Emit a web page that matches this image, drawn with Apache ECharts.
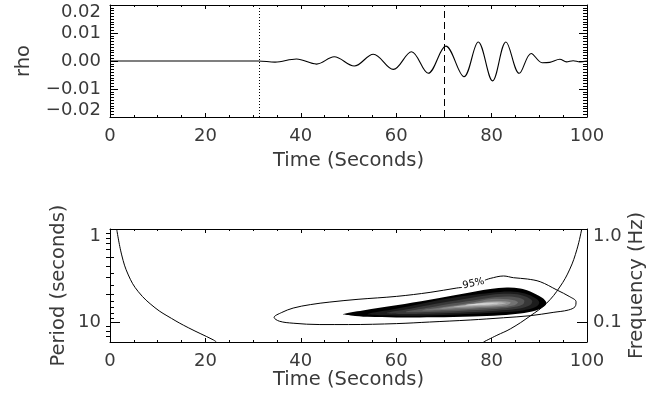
<!DOCTYPE html>
<html><head><meta charset="utf-8">
<script src="https://cdn.jsdelivr.net/npm/echarts@6/dist/echarts.min.js"></script>
<style>html,body{margin:0;padding:0;background:#fff}#c{width:671px;height:408px}</style>
</head><body><div id="c"></div>
<script>
// ---- top panel: rho time series (extrema) ----
const rhoTime  = [0, 31.1, 34.6, 39.1, 43.3, 47.0, 51.2, 55.2, 59.4, 63.2, 66.7, 70.4, 74.2, 77.2, 80.2, 83.0, 85.8, 88.3, 90.6, 92.2, 94.3, 95.7, 97.1, 98.5, 100];
const rhoValue = [0, 0, -0.0004, 0.0007, -0.0011, 0.0015, -0.0018, 0.0024, -0.0030, 0.0033, -0.0044, 0.0053, -0.0056, 0.0068, -0.0071, 0.0068, -0.0044, 0.0027, -0.0006, -0.0005, 0.0006, -0.0003, 0.0001, -0.0003, 0];
const dottedTime = 31.2;
const dashedTime = 70.1;

// ---- bottom panel: wavelet power (time, period) ----
const periodMax = 16.4;
const periodLabels = [1, 10];
const periodMinor = [2, 3, 4, 5, 6, 7, 8, 9];
const freqLabels = [0.1, 1.0];
const freqMinor = [0.07, 0.08, 0.09, 0.2, 0.3, 0.4, 0.5, 0.6, 0.7, 0.8, 0.9];

const level0 = [[48.9,8.2],[53,7.5],[60,6.6],[67,5.75],[74,4.97],[79.7,4.42],[83.2,4.25],[86,4.35],[88.1,4.69],[90.6,5.5],[91.5,6.25],[90.8,6.9],[89.3,7.5],[86,8.1],[82,8.45],[76,8.7],[68,8.9],[60,8.95],[54,8.8],[50.5,8.5]];
const level1 = [[54,8.2],[60,7.2],[65,6.4],[70,5.7],[75,5.2],[80,4.84],[84,4.7],[87,4.95],[89.3,5.6],[90,6.2],[89.2,6.9],[86.5,7.5],[82,7.85],[76,8.15],[70,8.4],[63,8.55],[57,8.45]];
const level2 = [[58,8.0],[63,7.2],[68,6.4],[74,5.7],[80,5.09],[84,4.98],[86.8,5.25],[88.5,5.9],[88,6.6],[85.5,7.2],[81,7.55],[75,7.85],[68,8.1],[62,8.2]];
const level3 = [[62,7.8],[67,7.0],[72,6.3],[77,5.75],[81,5.38],[84.5,5.35],[86.8,5.8],[86.5,6.5],[84,7.0],[80,7.3],[74,7.55],[67,7.8]];
const level4 = [[65.5,7.5],[70,6.9],[75,6.3],[80,5.65],[83.5,5.7],[85.5,6.1],[84.8,6.6],[81.5,6.95],[76,7.2],[70,7.45]];
const level5 = [[69,7.2],[73,6.7],[77.5,6.2],[81,5.95],[84,6.15],[83,6.6],[79,6.85],[73,7.05]];
const level6 = [[72,6.9],[76,6.45],[80,6.1],[83,6.25],[81,6.55],[76.5,6.72]];
const level7 = [[74.5,6.6],[78,6.3],[81.5,6.3],[79,6.5]];
const levels = [level0, level1, level2, level3, level4, level5, level6, level7];
const levelColors = ['#000000', '#1c1c1c', '#383838', '#555555', '#737373', '#929292', '#b4b4b4', '#d8d8d8'];

const sig95 = [[78.6,3.55],[79.7,3.4],[82.5,3.2],[84.6,3.34],[87.5,3.45],[90.2,3.69],[93.7,4.53],[96.4,5.35],[97.7,6.05],[97.5,6.84],[96.1,7.43],[92.9,7.88],[88.1,8.55],[82.5,9.0],[75.5,9.51],[67,10.0],[60.1,10.4],[50,10.65],[44,10.65],[38.4,10.3],[35.5,9.8],[34.4,8.92],[36,7.9],[38.4,7.08],[42,6.5],[46.1,6.1],[52,5.7],[60.1,5.3],[67.1,4.8],[72.7,4.31],[73.8,4.25]];
const sigLabel = {text: '95%', at: [76.2, 3.85]};
const coiLeft  = [[1.4,1.0],[2.45,1.9],[3.84,3.12],[5.93,4.72],[9.43,7.02],[12.9,9.15],[16.4,11.5],[21.7,15.6],[22.3,16.4]];
const coiRight = [[78.3,16.4],[81.1,13.9],[84,11.8],[88.1,8.6],[91.5,6.3],[94.3,4.2],[96.4,2.7],[97.9,1.65],[98.9,1.0]];

const FONT = 'DejaVu Sans';
const TXT = '#3a3a3a';
const FS = 18;
const NFS = 19.5;

function lbl(extra) {
  return Object.assign({fontFamily: FONT, fontSize: FS, color: TXT}, extra || {});
}
function nameStyle() {
  return {fontFamily: FONT, fontSize: NFS, color: TXT};
}
const richShift = {
  t: {fontFamily: FONT, fontSize: FS, color: TXT, padding: [15, 0, 0, 0]},
  b: {fontFamily: FONT, fontSize: FS, color: TXT, padding: [0, 0, 13, 0]}
};

function xAxisDef(grid, top, withLabels) {
  return {
    type: 'value', gridIndex: grid, position: top ? 'top' : 'bottom',
    min: 0, max: 100, interval: 20,
    axisLine: {show: true, onZero: false, lineStyle: {color: '#000', width: 1}},
    axisTick: {show: true, inside: true, length: 4, lineStyle: {color: '#000'}},
    minorTick: {show: true, splitNumber: 4, length: 2, lineStyle: {color: '#000'}},
    splitLine: {show: false}, minorSplitLine: {show: false},
    axisLabel: withLabels ? lbl({margin: 10, formatter: v => String(v)}) : {show: false},
    name: withLabels ? 'Time (Seconds)' : '',
    nameLocation: 'middle', nameGap: grid === 0 ? 34 : 28, nameMoveOverlap: false,
    nameTextStyle: nameStyle()
  };
}

const rhoFormatter = v => {
  const s = (Math.abs(v) < 1e-9 ? 0 : v).toFixed(2).replace('-', '\u2212');
  if (v > 0.0199) return '{t|' + s + '}';
  if (v < -0.0199) return '{b|' + s + '}';
  return s;
};

const yAxes = [
  {
    type: 'value', gridIndex: 0, position: 'left', min: -0.02, max: 0.02, interval: 0.01,
    axisLine: {show: true, onZero: false, lineStyle: {color: '#000'}},
    axisTick: {show: true, inside: true, length: 8, lineStyle: {color: '#000'}},
    minorTick: {show: true, splitNumber: 10, length: 4, lineStyle: {color: '#000'}},
    splitLine: {show: false}, minorSplitLine: {show: false},
    axisLabel: lbl({margin: 9, formatter: rhoFormatter, rich: richShift}),
    name: 'rho', nameLocation: 'middle', nameGap: 76, nameMoveOverlap: false, nameTextStyle: nameStyle()
  },
  {
    type: 'value', gridIndex: 0, position: 'right', offset: 0, min: -0.02, max: 0.02, interval: 0.01,
    axisLine: {show: true, onZero: false, lineStyle: {color: '#000'}},
    axisTick: {show: true, inside: true, length: 8, lineStyle: {color: '#000'}},
    minorTick: {show: true, splitNumber: 10, length: 4, lineStyle: {color: '#000'}},
    splitLine: {show: false}, minorSplitLine: {show: false},
    axisLabel: {show: false}
  },
  {
    type: 'log', logBase: 10, gridIndex: 1, position: 'left', offset: 0, min: 1, max: periodMax, inverse: true,
    axisLine: {show: true, onZero: false, lineStyle: {color: '#000'}},
    axisTick: {show: true, inside: true, length: 10, customValues: periodLabels, lineStyle: {color: '#000'}},
    splitLine: {show: false},
    axisLabel: lbl({margin: 9, customValues: periodLabels,
      formatter: v => (Math.abs(v - 1) < 1e-9 ? '{t|1}' : String(Math.round(v))), rich: richShift}),
    name: 'Period (seconds)', nameLocation: 'middle', nameGap: 41, nameMoveOverlap: false, nameTextStyle: nameStyle()
  },
  {
    type: 'log', logBase: 10, gridIndex: 1, position: 'left', offset: 0, min: 1, max: periodMax, inverse: true,
    axisLine: {show: false},
    axisTick: {show: true, inside: true, length: 4, customValues: periodMinor, lineStyle: {color: '#000'}},
    splitLine: {show: false}, axisLabel: {show: false}
  },
  {
    type: 'log', logBase: 10, gridIndex: 1, position: 'right', offset: 0, min: 1 / periodMax, max: 1,
    axisLine: {show: true, onZero: false, lineStyle: {color: '#000'}},
    axisTick: {show: true, inside: true, length: 10, customValues: freqLabels, lineStyle: {color: '#000'}},
    splitLine: {show: false},
    axisLabel: lbl({margin: 6, customValues: freqLabels,
      formatter: v => (v > 0.5 ? '{t|' + v.toFixed(1) + '}' : v.toFixed(1)), rich: richShift}),
    name: 'Frequency (Hz)', nameLocation: 'middle', nameGap: 40, nameMoveOverlap: false, nameTextStyle: nameStyle()
  },
  {
    type: 'log', logBase: 10, gridIndex: 1, position: 'right', offset: 0, min: 1 / periodMax, max: 1,
    axisLine: {show: false},
    axisTick: {show: true, inside: true, length: 4, customValues: freqMinor, lineStyle: {color: '#000'}},
    splitLine: {show: false}, axisLabel: {show: false}
  }
];

function polySeries(points, color, z) {
  return {
    type: 'custom', xAxisIndex: 2, yAxisIndex: 2, silent: true, z: z,
    data: [[60, 5]],
    renderItem: function (params, api) {
      const pts = points.map(p => api.coord(p));
      return {type: 'polygon', shape: {points: pts, smooth: 0.35}, style: {fill: color, stroke: null}};
    }
  };
}

const series = [
  {
    type: 'line', xAxisIndex: 0, yAxisIndex: 0, silent: true,
    data: rhoTime.map((t, i) => [t, rhoValue[i]]),
    showSymbol: false, smooth: 0.36,
    lineStyle: {color: '#000', width: 1.1},
    markLine: {
      silent: true, symbol: ['none', 'none'], label: {show: false},
      lineStyle: {color: '#000', width: 1},
      data: [
        {xAxis: dottedTime, lineStyle: {type: [1, 2], color: '#000', width: 1}},
        {xAxis: dashedTime, lineStyle: {type: [7, 4], color: '#000', width: 1}}
      ]
    }
  }
];
levels.forEach((lv, i) => series.push(polySeries(lv, levelColors[i], 2 + i * 0.01)));
[sig95, coiLeft, coiRight].forEach((d, i) => series.push({
  type: 'line', xAxisIndex: 2, yAxisIndex: 2, silent: true, z: 3,
  data: d, showSymbol: false, smooth: i === 0 ? 0.35 : 0.4,
  lineStyle: {color: '#000', width: 1}
}));
series.push({
  type: 'custom', xAxisIndex: 2, yAxisIndex: 2, silent: true, z: 4,
  data: [sigLabel.at],
  renderItem: function (params, api) {
    const c = api.coord([api.value(0), api.value(1)]);
    return {type: 'text', x: c[0], y: c[1], rotation: 0.22,
      style: {text: sigLabel.text, fontFamily: FONT, fontSize: 10, fill: '#000', align: 'center', verticalAlign: 'middle'}};
  }
});

const chart = echarts.init(document.getElementById('c'), null, {renderer: 'canvas'});
chart.setOption({
  animation: false,
  backgroundColor: '#fff',
  textStyle: {fontFamily: FONT},
  grid: [
    {left: 110, top: 5, width: 477, height: 112, containLabel: false, outerBoundsMode: 'none'},
    {left: 110, top: 229, width: 477, height: 113, containLabel: false, outerBoundsMode: 'none'}
  ],
  xAxis: [xAxisDef(0, false, true), xAxisDef(0, true, false), xAxisDef(1, false, true), xAxisDef(1, true, false)],
  yAxis: yAxes,
  series: series
});
</script>
</body></html>
